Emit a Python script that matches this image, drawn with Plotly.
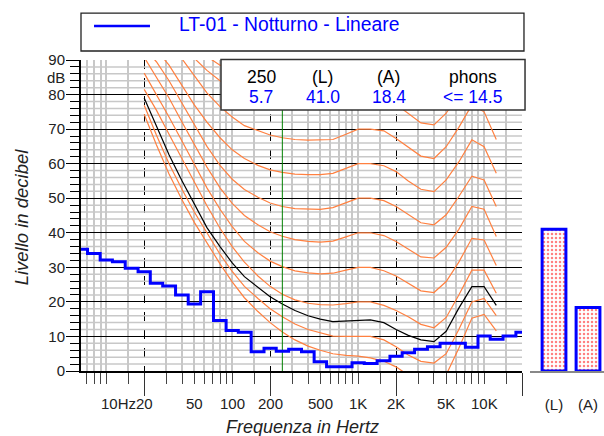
import math
import plotly.graph_objects as go

# ---------------------------------------------------------------
# Data
# ---------------------------------------------------------------

# 1/3 octave band centres and measured levels (LT-01 - Notturno - Lineare)
bands = [6.3, 8, 10, 12.5, 16, 20, 25, 31.5, 40, 50, 63, 80, 100, 125, 160,
         200, 250, 315, 400, 500, 630, 800, 1000, 1250, 1600, 2000, 2500,
         3150, 4000, 5000, 6300, 8000, 10000, 12500, 16000, 20000]
levels = [35.2, 34.0, 32.1, 31.6, 29.7, 28.7, 25.4, 24.6, 22.0, 19.4, 22.9,
          14.6, 11.7, 11.2, 5.6, 6.6, 5.7, 6.3, 5.6, 2.7, 1.2, 1.2, 2.4, 2.2,
          3.0, 4.3, 5.3, 6.3, 7.0, 8.0, 8.0, 6.9, 10.1, 9.2, 10.1, 11.2]

# overall levels (bars on the right)
bar_names = ["(L)", "(A)"]
bar_values = [41.0, 18.4]

# info box
info_band = 250
info_headers = ["250", "(L)", "(A)", "phons"]
info_values = ["5.7", "41.0", "18.4", "&lt;= 14.5"]
legend_name = "LT-01 - Notturno - Lineare"

# equal loudness contours
iso_freq = [20, 25, 31.5, 40, 50, 63, 80, 100, 125, 160, 200, 250, 315, 400,
            500, 630, 800, 1000, 1250, 1600, 2000, 2500, 3150, 4000, 5000,
            6300, 8000, 10000, 12500]
iso_thr = [74.3, 65.5, 57.0, 49.5, 43.0, 37.0, 31.0, 25.8, 21.2, 17.2, 14.0,
           11.3, 9.0, 7.2, 6.0, 5.0, 4.5, 4.3, 3.8, 2.8, 1.2, -1.2, -3.6,
           -3.9, -1.1, 6.6, 15.3, 16.4, 11.6]
iso_10 = [76.9, 68.3, 60.0, 52.5, 46.0, 39.8, 33.8, 28.8, 24.5, 21.0, 18.0,
          15.7, 13.6, 12.0, 11.0, 10.1, 10.0, 10.0, 10.0, 9.0, 7.0, 4.6, 2.8,
          2.3, 5.0, 12.0, 20.0, 21.0, 16.0]
iso_20 = [81.5, 75.5, 68.5, 61.5, 54.5, 47.8, 41.3, 36.0, 31.5, 27.5, 24.5,
          22.2, 20.6, 19.6, 19.2, 19.1, 19.5, 20.0, 20.0, 19.0, 17.5, 15.7,
          13.5, 12.5, 15.5, 22.0, 29.2, 29.2, 22.5]
iso_30 = [86.2, 80.0, 73.5, 66.5, 59.8, 53.0, 46.8, 41.8, 37.5, 34.2, 31.8,
          30.2, 29.0, 28.4, 28.1, 28.3, 29.2, 30.0, 30.0, 29.0, 27.5, 25.5,
          23.2, 22.7, 25.9, 31.5, 38.4, 37.9, 30.5]
iso_40 = [90.8, 85.0, 79.0, 72.0, 65.5, 59.0, 53.0, 48.5, 45.0, 42.3, 40.3,
          39.0, 38.0, 37.5, 37.3, 37.6, 38.8, 40.0, 40.0, 39.2, 37.5, 35.3,
          33.0, 32.7, 35.8, 41.0, 47.6, 46.8, 38.9]
iso_50 = [93.5, 89.5, 84.0, 77.5, 71.0, 65.0, 59.5, 55.5, 52.5, 50.3, 48.6,
          47.6, 47.0, 46.8, 46.8, 47.3, 48.7, 50.0, 50.0, 49.3, 47.6, 45.3,
          42.9, 42.3, 45.2, 50.5, 56.4, 55.3, 47.6]
iso_60 = [98.0, 93.0, 88.5, 82.5, 77.0, 72.0, 67.5, 64.0, 61.5, 59.5, 58.2,
          57.5, 57.0, 56.8, 56.8, 57.2, 58.6, 60.0, 60.0, 59.4, 57.7, 55.0,
          52.6, 51.9, 55.3, 60.5, 66.9, 64.9, 57.2]
iso_70 = [103.0, 98.0, 94.0, 90.3, 85.5, 80.5, 76.5, 73.5, 71.0, 69.5, 68.3,
          67.5, 67.0, 66.8, 66.8, 67.0, 68.5, 70.0, 70.0, 69.5, 67.3, 64.7,
          62.2, 61.5, 64.9, 70.5, 77.0, 75.0, 67.0]
iso_80 = [108.0, 103.0, 98.5, 94.5, 90.5, 87.0, 84.0, 81.8, 80.0, 79.0, 78.3,
          77.6, 77.2, 77.0, 77.0, 77.3, 78.6, 80.0, 80.0, 79.4, 77.2, 74.5,
          71.8, 71.2, 74.6, 80.0, 87.0, 85.0, 77.0]
iso_90 = [113.0, 108.0, 104.0, 99.0, 95.0, 91.0, 88.5, 87.5, 87.0, 87.0,
          87.0, 87.0, 87.0, 87.0, 87.0, 87.3, 88.6, 90.0, 90.0, 89.4, 87.0,
          84.3, 81.5, 81.0, 84.3, 89.7, 97.0, 95.0, 87.0]
# contour of the measured loudness (14.5 phon)
iso_meas = [79.0, 71.0, 62.6, 55.0, 48.4, 41.5, 36.0, 31.3, 27.3, 24.2, 21.5,
            19.4, 17.5, 16.0, 15.0, 14.3, 14.5, 14.8, 14.8, 14.0, 12.0, 10.3,
            9.0, 8.5, 11.5, 18.2, 24.4, 24.4, 19.0]

# axis ticks
x_limits = [6.3, 20000]
x_long_ticks = [20, 200, 2000, 20000]
x_minor_ticks = [7, 8, 9, 10, 15, 30, 40, 50, 60, 70, 80, 90, 100, 150,
                 300, 400, 500, 600, 700, 800, 900, 1000, 1500,
                 3000, 4000, 5000, 6000, 7000, 8000, 9000, 10000, 15000]
x_label_vals = [12.5, 20, 50, 100, 200, 500, 1000, 2000, 5000, 10000]
x_label_text = ["10Hz", "20", "50", "100", "200", "500", "1K", "2K", "5K", "10K"]
y_ticks = [0, 10, 20, 30, 40, 50, 60, 70, 80, 90]
y_minor_ticks = [2, 4, 6, 8, 12, 14, 16, 18, 22, 24, 26, 28, 32, 34, 36, 38,
                 42, 44, 46, 48, 52, 54, 56, 58, 62, 64, 66, 68, 72, 74, 76,
                 78, 82, 84, 86, 88]

# ---------------------------------------------------------------
# Style
# ---------------------------------------------------------------
FONT = "Liberation Sans, Arial, sans-serif"
ORANGE = "#FF8040"
BLUE = "#0000FF"
GRID = "#C8C8C8"
X_RANGE = [math.log10(x_limits[0]), math.log10(x_limits[1])]
X_DOMAIN = [0, 441 / 523]
BAR_DOMAIN = [449 / 523, 1]

fig = go.Figure()

# light 2 dB grid, drawn first so it stays under everything else
grid_x, grid_y = [], []
for v in y_minor_ticks:
    grid_x += [x_limits[0], x_limits[1], None]
    grid_y += [v, v, None]
fig.add_trace(go.Scatter(
    x=grid_x, y=grid_y, mode="lines",
    line=dict(color=GRID, width=1.5),
    showlegend=False, hoverinfo="skip",
))

contours = [iso_thr, iso_10, iso_20, iso_30, iso_40, iso_50,
            iso_60, iso_70, iso_80, iso_90]
for c in contours:
    fig.add_trace(go.Scatter(
        x=iso_freq, y=c, mode="lines",
        line=dict(color=ORANGE, width=1.2),
        showlegend=False, hoverinfo="skip",
    ))

fig.add_trace(go.Scatter(
    x=iso_freq, y=iso_meas, mode="lines",
    line=dict(color="black", width=1.2),
    showlegend=False, hoverinfo="skip",
))

# marker of the selected band
fig.add_trace(go.Scatter(
    x=[info_band, info_band], y=[0, 90], mode="lines",
    line=dict(color="#008000", width=1),
    showlegend=False, hoverinfo="skip",
))

fig.add_trace(go.Scatter(
    x=bands, y=levels, mode="lines",
    line=dict(color=BLUE, width=3, shape="hvh"),
    name=legend_name, showlegend=False,
))

fig.add_trace(go.Bar(
    x=bar_names, y=bar_values, xaxis="x2", yaxis="y2",
    width=0.7,
    marker=dict(
        color="white",
        line=dict(color=BLUE, width=3),
        pattern=dict(shape=".", fgcolor="red", bgcolor="white",
                     size=4, solidity=0.3),
    ),
    showlegend=False,
))

fig.update_layout(
    width=604, height=436,
    margin=dict(l=81, r=0, t=60, b=65),
    paper_bgcolor="white", plot_bgcolor="white",
    font=dict(family=FONT, size=15, color="#222"),
    showlegend=False,
    xaxis=dict(
        type="log", range=X_RANGE, domain=X_DOMAIN, anchor="y",
        tickvals=x_long_ticks, ticktext=["", "", "", ""],
        ticks="outside", ticklen=23, tickcolor="#333", tickwidth=1,
        showgrid=True, gridcolor="black", griddash="dash", gridwidth=1.4,
        showline=True, linecolor="black", linewidth=2,
        minor=dict(tickvals=x_minor_ticks, ticks="outside", ticklen=11,
                   tickcolor="#444", tickwidth=1,
                   showgrid=True, gridcolor=GRID, gridwidth=1.5,
                   griddash="solid"),
    ),
    yaxis=dict(
        range=[0, 90], anchor="x", tickvals=y_ticks,
        ticks="outside", ticklen=13, tickcolor="black", tickwidth=1,
        ticklabelstandoff=-2,
        showgrid=True, gridcolor="black", gridwidth=1.3,
        showline=True, linecolor="black", linewidth=2, zeroline=False,
        tickfont=dict(size=15, color="#222"),
        minor=dict(tickvals=y_minor_ticks, ticks="outside", ticklen=9,
                   tickcolor="black", tickwidth=1, showgrid=False),
    ),
    xaxis2=dict(
        domain=BAR_DOMAIN, anchor="y2", type="category",
        range=[-0.706, 1.47],
        showline=True, linecolor="#888", linewidth=2,
        ticks="outside", ticklen=19, tickcolor="rgba(0,0,0,0)",
        showgrid=False, tickfont=dict(size=15, color="#222"),
    ),
    yaxis2=dict(
        range=[0, 90], anchor="x2", showgrid=False, showline=False,
        zeroline=False, showticklabels=False, ticks="",
    ),
)

# frequency labels under the axis
for v, t in zip(x_label_vals, x_label_text):
    fig.add_annotation(xref="x", yref="paper", x=math.log10(v), y=-0.103,
                       xanchor="center", yanchor="middle", showarrow=False,
                       text=t, font=dict(size=15, color="#222"))

# legend box above the chart
fig.add_shape(type="rect", xref="paper", yref="paper",
              x0=0.0, x1=0.847, y0=1.029, y1=1.151,
              line=dict(color="#222", width=1.3), fillcolor="white")
fig.add_shape(type="line", xref="paper", yref="paper",
              x0=0.0249, x1=0.1319, y0=1.109, y1=1.109,
              line=dict(color=BLUE, width=2.5))
fig.add_annotation(xref="paper", yref="paper", x=0.1836, y=1.114,
                   xanchor="left", yanchor="middle", showarrow=False,
                   text=legend_name, font=dict(size=19.3, color=BLUE))

# info box inside the plot
fig.add_shape(type="rect", xref="paper", yref="paper", layer="above",
              x0=0.2677, x1=0.849, y0=0.8392, y1=1.0016,
              line=dict(color="#333", width=1.5), fillcolor="white")
info_x = [0.3442, 0.4627, 0.5889, 0.7495]
for xx, head, val in zip(info_x, info_headers, info_values):
    fig.add_annotation(xref="paper", yref="paper", x=xx, y=0.9453,
                       xanchor="center", yanchor="middle",
                       showarrow=False, text=head,
                       font=dict(size=17.5, color="black"))
    fig.add_annotation(xref="paper", yref="paper", x=xx, y=0.881,
                       xanchor="center", yanchor="middle",
                       showarrow=False, text=val,
                       font=dict(size=17.5, color=BLUE))

# unit label and axis titles
fig.add_annotation(xref="paper", yref="y", x=-0.027, y=85,
                   xanchor="right", yanchor="middle",
                   showarrow=False, text="dB", font=dict(size=15, color="#222"))
fig.add_annotation(xref="paper", yref="paper", x=-0.113, y=0.497,
                   xanchor="center", yanchor="middle",
                   showarrow=False, textangle=-90,
                   text="<i>Livello in decibel</i>",
                   font=dict(size=18.5, color="#222"))
fig.add_annotation(xref="paper", yref="paper", x=0.4226, y=-0.180,
                   xanchor="center", yanchor="middle",
                   showarrow=False, text="<i>Frequenza in Hertz</i>",
                   font=dict(size=18, color="#222"))

fig.write_html(
    "out.html",
    config={"displayModeBar": False},
    post_script="document.body.style.margin='0';"
                "document.body.style.overflow='hidden';",
)
